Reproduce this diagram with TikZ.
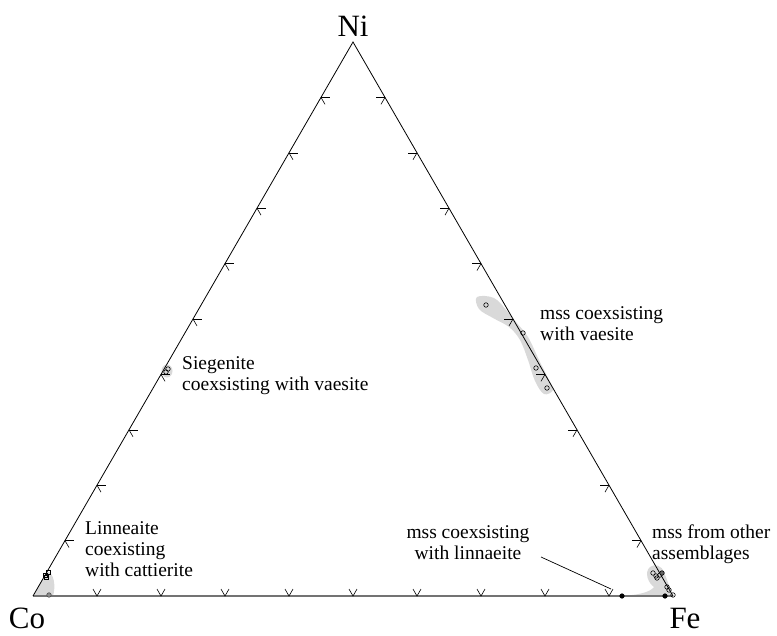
\documentclass[tikz,border=0pt]{standalone}
\usepackage{fontspec}
\setmainfont{Liberation Serif}
\usetikzlibrary{calc}
\begin{document}
\begin{tikzpicture}[x=1pt,y=-1pt,
  edge/.style={line width=0.8pt,black},
  baseedge/.style={line width=1.6pt,black!55},
  tickline/.style={line width=0.6pt,black},
  blob/.style={fill=black!15},
  pt/.style={circle,draw=black,line width=0.6pt,inner sep=0pt,minimum size=4.5pt},
  ptfill/.style={pt,fill=black},
  ptgray/.style={pt,fill=black!45,draw=black!70},
  sq/.style={rectangle,draw=black,line width=0.6pt,inner sep=0pt,minimum size=3.8pt},
  lab/.style={font=\fontsize{19.5}{21}\selectfont,inner sep=0pt,align=left},
  vlab/.style={font=\fontsize{31}{34}\selectfont,inner sep=0pt},
  leader/.style={line width=0.7pt,black}]
\useasboundingbox (0,0) rectangle (777,636);
\coordinate (Co) at (33,596);
\coordinate (Fe) at (673,596);
\coordinate (Ni) at (353,42);
% grey fields
\fill[blob] (Co) -- (47,571) .. controls (54,573) and (56,586) .. (53,596) -- cycle;
\fill[blob] (167,371) ellipse [x radius=5.5pt, y radius=6.5pt];
\fill[blob] plot[smooth cycle, tension=0.6] coordinates {(477,297) (494,298) (507,311) (516,322) (528,337) (539,360) (549,380) (553,390) (544,394) (535,381) (528,360) (520,340) (509,327) (493,318) (479,309)};
\fill[blob] (620,596) .. controls (640,595) and (650,592) .. (654,587) .. controls (648,583) and (644,572) .. (650,567) .. controls (655,563) and (662,566) .. (664,572) -- (Fe) -- cycle;
% triangle
\draw[baseedge] (Co) -- (Fe);
\draw[edge] (Co) -- (Ni) -- (Fe);
% ticks
\foreach \t in {1,...,9} {
  \coordinate (L\t) at ($(Co)!\t/10!(Ni)$);
  \coordinate (R\t) at ($(Fe)!\t/10!(Ni)$);
  \coordinate (B\t) at ($(Co)!\t/10!(Fe)$);
  \draw[tickline] (L\t) -- ++(9,0);
  \draw[tickline] (L\t) -- ++(4,6.93);
  \draw[tickline] (R\t) -- ++(-9,0);
  \draw[tickline] (R\t) -- ++(-4,6.93);
  \draw[tickline] ($(B\t)+(-4,-6.93)$) -- (B\t) -- ++(4,-6.93);
}
% data points
\node[sq] (c1) at (45,575) {};
\node[sq] (c2) at (48,572) {};
\node[sq] (c3) at (46,577) {};
\node[ptgray] (c4) at (49,595) {};
\node[pt] (s1) at (168,369) {};
\node[pt] (s2) at (166,372) {};
\node[pt] (v1) at (486,305) {};
\node[pt] (v2) at (523,333) {};
\node[pt] (v3) at (536,368) {};
\node[pt] (v4) at (547,388) {};
\node[ptfill] (f1) at (622,596) {};
\node[ptfill] (f2) at (665,596) {};
\node[pt] (f3) at (673,595) {};
\node[pt] (f4) at (653,573) {};
\node[pt] (f5) at (656,576) {};
\node[pt] (f6) at (657,578) {};
\node[pt] (f7) at (660,575) {};
\node[pt,fill=black!60] (f8) at (662,573) {};
\node[pt] (f9) at (667,587) {};
\node[pt] (f10) at (669,590) {};
% vertex labels
\node[vlab,anchor=base] (NiL) at (353,37) {Ni};
\node[vlab,anchor=base] (CoL) at (27,628) {Co};
\node[vlab,anchor=base] (FeL) at (685,628) {Fe};
% field labels (anchor at baseline of last line)
\node[lab,anchor=base west] (linlab) at (85,576) {Linneaite\\coexisting\\with cattierite};
\node[lab,anchor=base west] (sieglab) at (182,391) {Siegenite\\coexsisting with vaesite};
\node[lab,anchor=base west] (vaelab) at (540,341) {mss coexsisting\\with vaesite};
\node[lab,anchor=base west] (othlab) at (652,559) {mss from other\\assemblages};
\node[lab,anchor=base,align=center] (mlinlab) at (468,559) {mss coexsisting\\with linnaeite};
\coordinate (ld1) at (541,557);
\coordinate (ld2) at (611,589);
\draw[leader] (ld1) -- (ld2);
\end{tikzpicture}
\end{document}
